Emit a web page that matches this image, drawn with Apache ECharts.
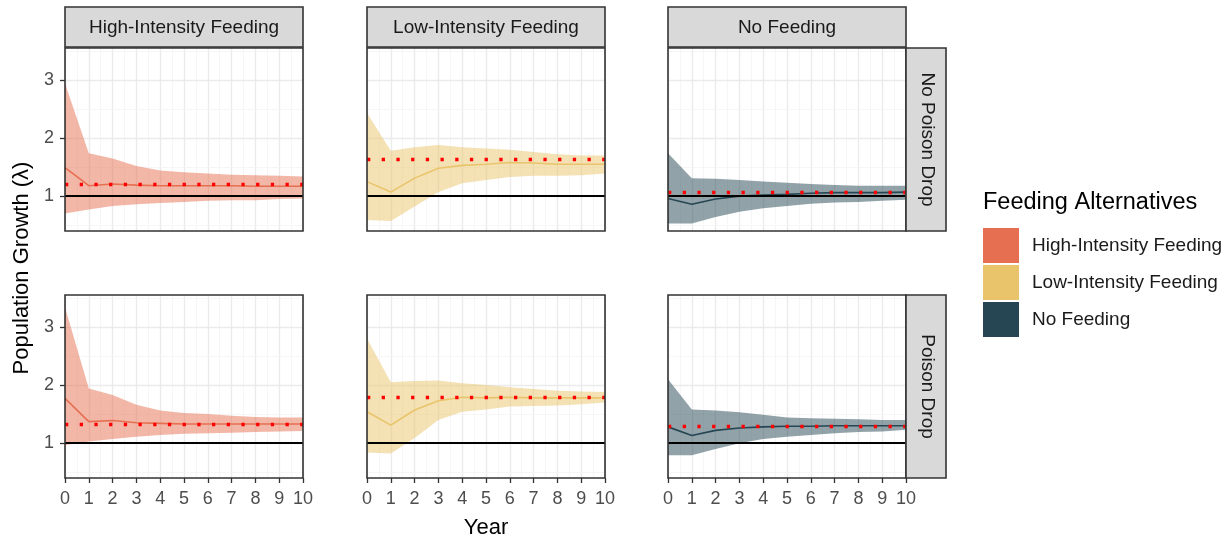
<!DOCTYPE html>
<html><head><meta charset="utf-8">
<script src="https://cdn.jsdelivr.net/npm/echarts@6/dist/echarts.min.js"></script>
<style>html,body{margin:0;padding:0;background:#fff}#c{width:1230px;height:543px}</style>
</head><body><div id="c"></div>
<script>
const years = [0,1,2,3,4,5,6,7,8,9,10];
const yTicks = [1,2,3];
const yMinorGrid = [0.5,1.5,2.5,3.5];
const feedings = ['High-Intensity Feeding','Low-Intensity Feeding','No Feeding'];
const poisonRows = ['No Poison Drop','Poison Drop'];
const colors = ['#E76F51','#E9C46A','#264653'];

const hiNoMean = [1.49,1.18,1.21,1.19,1.18,1.18,1.18,1.18,1.17,1.17,1.17];
const hiNoLow  = [0.70,0.77,0.83,0.86,0.88,0.90,0.92,0.93,0.93,0.95,0.96];
const hiNoUp   = [2.94,1.74,1.65,1.52,1.44,1.41,1.39,1.37,1.36,1.35,1.34];
const liNoMean = [1.25,1.07,1.31,1.48,1.53,1.55,1.58,1.57,1.55,1.55,1.55];
const liNoLow  = [0.59,0.57,0.82,1.07,1.22,1.28,1.33,1.35,1.35,1.36,1.39];
const liNoUp   = [2.43,1.78,1.84,1.88,1.84,1.82,1.80,1.76,1.72,1.70,1.70];
const nfNoMean = [0.96,0.86,0.95,1.00,1.02,1.03,1.05,1.06,1.06,1.06,1.07];
const nfNoLow  = [0.53,0.53,0.64,0.73,0.79,0.83,0.87,0.89,0.90,0.92,0.94];
const nfNoUp   = [1.74,1.31,1.30,1.28,1.25,1.23,1.21,1.19,1.18,1.18,1.18];
const hiPMean  = [1.77,1.37,1.39,1.35,1.34,1.33,1.33,1.33,1.33,1.33,1.33];
const hiPLow   = [0.97,1.03,1.07,1.11,1.14,1.16,1.17,1.18,1.19,1.20,1.21];
const hiPUp    = [3.34,1.94,1.83,1.66,1.56,1.52,1.50,1.47,1.45,1.44,1.44];
const liPMean  = [1.54,1.31,1.57,1.73,1.79,1.78,1.79,1.78,1.78,1.78,1.78];
const liPLow   = [0.84,0.82,1.09,1.40,1.54,1.58,1.63,1.64,1.65,1.67,1.70];
const liPUp    = [2.80,2.05,2.07,2.08,2.03,2.00,1.96,1.93,1.90,1.89,1.88];
const nfPMean  = [1.28,1.13,1.22,1.26,1.28,1.29,1.29,1.30,1.30,1.30,1.30];
const nfPLow   = [0.79,0.79,0.90,1.00,1.07,1.11,1.14,1.17,1.19,1.20,1.23];
const nfPUp    = [2.10,1.58,1.56,1.53,1.49,1.44,1.43,1.42,1.41,1.40,1.40];
const targets  = [1.20,1.64,1.075,1.335,1.79,1.29];
const baseline = 1;

const panels = [
  {mean:hiNoMean, low:hiNoLow, up:hiNoUp},
  {mean:liNoMean, low:liNoLow, up:liNoUp},
  {mean:nfNoMean, low:nfNoLow, up:nfNoUp},
  {mean:hiPMean, low:hiPLow, up:hiPUp},
  {mean:liPMean, low:liPLow, up:liPUp},
  {mean:nfPMean, low:nfPLow, up:nfPUp}
];

const FONT = '"Liberation Sans", Arial, sans-serif';
const colLeft = [65, 367, 668];
const rowTop = [48, 295];
const PW = 238, PH = 183;

const grids = [], xAxes = [], yAxes = [], series = [], graphics = [];
panels.forEach((p, i) => {
  const r = Math.floor(i/3), c = i%3;
  grids.push({left: colLeft[c], top: rowTop[r], width: PW, height: PH, show: false});
  xAxes.push({
    type:'value', gridIndex:i, min:0, max:10, interval:1,
    axisLine:{show:false},
    axisTick:{show: r===1, length:5, lineStyle:{color:'#333333', width:1.3}},
    axisLabel:{show: r===1, color:'#4D4D4D', fontSize:18, fontFamily:FONT, margin:12},
    splitLine:{show:true, lineStyle:{color:'#EBEBEB', width:1.4}},
    minorTick:{show:false, splitNumber:2},
    minorSplitLine:{show:true, lineStyle:{color:'#F4F4F4', width:0.8}}
  });
  yAxes.push({
    type:'value', gridIndex:i, min:0.4, max:3.55,
    axisLine:{show:false},
    axisTick:{show: c===0, length:5, customValues: yTicks, lineStyle:{color:'#333333', width:1.3}},
    axisLabel:{show: c===0, customValues: yTicks, color:'#4D4D4D', fontSize:18, fontFamily:FONT, margin:11},
    splitLine:{show:false}
  });
  const col = colors[c];
  const gridLines = yTicks.map(v => ({yAxis:v, lineStyle:{color:'#EBEBEB', width:1.4, type:'solid'}}))
    .concat(yMinorGrid.map(v => ({yAxis:v, lineStyle:{color:'#F4F4F4', width:0.8, type:'solid'}})));
  series.push({
    type:'custom', xAxisIndex:i, yAxisIndex:i, name: feedings[c], z:2, silent:true, animation:false,
    itemStyle:{color:col},
    data: years.map((y,k)=>[y, p.low[k], p.up[k]]),
    renderItem: (params, api) => {
      if (params.dataIndex !== 0) return null;
      const upper = years.map((y,k)=>api.coord([y, p.up[k]]));
      const lower = years.map((y,k)=>api.coord([y, p.low[k]])).reverse();
      return {type:'polygon', shape:{points: upper.concat(lower)},
        style:{fill: col, opacity:0.5}};
    },
    markLine:{silent:true, symbol:'none', label:{show:false}, animation:false, z:1, data: gridLines}
  });
  series.push({
    type:'line', xAxisIndex:i, yAxisIndex:i, name:'mean'+i,
    data: years.map((y,k)=>[y, p.mean[k]]), symbol:'none', z:3,
    lineStyle:{color:col, width:1.6}, itemStyle:{color:col}, silent:true, animation:false,
    markLine:{silent:true, symbol:'none', label:{show:false}, animation:false, z:6,
      data:[
        {yAxis:baseline, lineStyle:{color:'#000000', width:2, type:'solid'}},
        {yAxis:targets[i], lineStyle:{color:'#FF0000', width:3.3, type:[3.3,11.4], cap:'butt'}}
      ]}
  });
  graphics.push({type:'rect', shape:{x:colLeft[c], y:rowTop[r], width:PW, height:PH},
    style:{fill:null, stroke:'#333333', lineWidth:1.6}, z:100, silent:true});
});

feedings.forEach((f, c) => {
  graphics.push({type:'rect', shape:{x:colLeft[c], y:7, width:PW, height:40},
    style:{fill:'#D9D9D9', stroke:'#333333', lineWidth:1.6}, z:100, silent:true});
  graphics.push({type:'text', x:colLeft[c]+PW/2, y:28, style:{text:f, fill:'#1A1A1A',
    font:'19px '+FONT, textAlign:'center', textVerticalAlign:'middle'}, z:101, silent:true});
});
poisonRows.forEach((t, r) => {
  graphics.push({type:'rect', shape:{x:colLeft[2]+PW, y:rowTop[r], width:40, height:PH},
    style:{fill:'#D9D9D9', stroke:'#333333', lineWidth:1.6}, z:100, silent:true});
  graphics.push({type:'text', x:colLeft[2]+PW+21, y:rowTop[r]+PH/2, rotation:-Math.PI/2,
    style:{text:t, fill:'#1A1A1A', font:'19px '+FONT, textAlign:'center', textVerticalAlign:'middle'}, z:101, silent:true});
});
graphics.push({type:'text', x:486, y:528, style:{text:'Year', fill:'#000', font:'22px '+FONT,
  textAlign:'center', textVerticalAlign:'middle'}, z:101, silent:true});
graphics.push({type:'text', x:22, y:268, rotation:Math.PI/2, style:{text:'Population Growth (λ)', fill:'#000',
  font:'22px '+FONT, textAlign:'center', textVerticalAlign:'middle'}, z:101, silent:true});
graphics.push({type:'text', x:983, y:203, style:{text:'Feeding Alternatives', fill:'#000',
  font:'23.5px '+FONT, textAlign:'left', textVerticalAlign:'middle'}, z:101, silent:true});

const chart = echarts.init(document.getElementById('c'), null, {renderer:'canvas'});
chart.setOption({
  animation:false,
  backgroundColor:'#ffffff',
  grid: grids, xAxis: xAxes, yAxis: yAxes, series: series,
  legend:{
    orient:'vertical', left:983, top:228, padding:0, itemWidth:36, itemHeight:35, itemGap:2,
    icon:'rect', selectedMode:false,
    textStyle:{fontSize:19, color:'#1A1A1A', fontFamily:FONT, padding:[0,0,0,8]},
    data: feedings.map((f,c)=>({name:f, itemStyle:{color:colors[c], opacity:1}}))
  },
  graphic: graphics
});
</script></body></html>
